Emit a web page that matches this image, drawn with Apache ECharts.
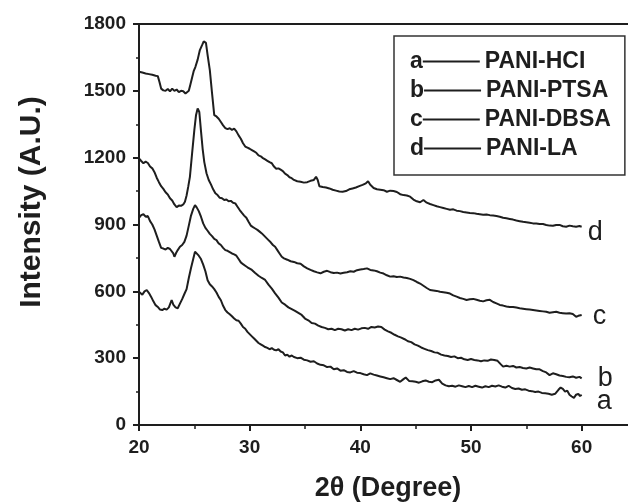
<!DOCTYPE html>
<html>
<head>
<meta charset="utf-8">
<script src="https://cdn.jsdelivr.net/npm/echarts@6/dist/echarts.min.js"></script>
<style>html,body{margin:0;padding:0;background:#fff;}#c{width:628px;height:502px;}</style>
</head>
<body>
<div id="c"></div>
<script>
const seriesNames = ['PANI-HCI', 'PANI-PTSA', 'PANI-DBSA', 'PANI-LA'];
const seriesLetters = ['a', 'b', 'c', 'd'];
const xTicks = [20, 30, 40, 50, 60];
const yTicks = [0, 300, 600, 900, 1200, 1500, 1800];

const hclX = [20.0,20.3,20.5,20.7,20.9,21.1,21.3,21.5,21.7,21.9,22.1,22.3,22.5,22.7,22.85,22.95,23.1,23.3,23.5,23.7,23.9,24.1,24.3,24.5,24.7,24.9,25.06,25.2,25.4,25.6,25.8,26.0,26.2,26.4,26.6,26.8,27.0,27.2,27.4,27.6,27.8,28.0,28.2,28.4,28.6,28.8,29.0,29.2,29.4,29.6,29.8,30.0,30.2,30.4,30.6,30.8,31.0,31.2,31.4,31.6,31.8,32.0,32.2,32.4,32.6,32.8,33.0,33.2,33.4,33.6,33.8,34.0,34.3,34.6,34.9,35.2,35.5,35.8,36.1,36.4,36.7,37.0,37.3,37.6,37.9,38.2,38.5,38.8,39.1,39.4,39.7,40.0,40.3,40.6,40.9,41.2,41.5,41.8,42.1,42.4,42.7,43.0,43.3,43.6,43.9,44.1,44.4,44.7,45.0,45.3,45.6,45.9,46.2,46.5,46.8,47.1,47.4,47.7,48.0,48.3,48.6,48.9,49.2,49.5,49.8,50.1,50.4,50.7,51.0,51.3,51.6,51.9,52.2,52.5,52.8,53.1,53.4,53.7,54.0,54.3,54.6,54.9,55.2,55.5,55.8,56.1,56.4,56.7,57.0,57.3,57.6,57.9,58.1,58.3,58.5,58.7,58.9,59.1,59.3,59.5,59.7,59.85,60.0];
const hclY = [598,585,600,606,592,575,555,538,530,518,516,522,518,528,531,561,540,528,524,545,565,588,610,660,705,745,778,770,760,745,720,690,650,632,622,610,595,575,560,535,516,505,497,488,478,470,468,455,440,432,418,408,398,388,378,368,362,356,350,346,340,345,338,335,340,330,326,312,315,307,312,305,300,302,293,290,284,286,276,270,268,260,262,250,254,244,246,238,236,242,235,233,228,224,232,226,222,218,214,210,206,210,202,194,206,213,198,196,194,190,196,200,194,192,200,203,186,178,174,176,172,178,174,170,175,170,176,172,168,174,170,176,173,178,172,168,176,166,162,164,158,160,154,152,148,150,144,142,140,136,140,158,168,162,150,154,136,128,122,136,140,130,135];

const ptsaX = [20.0,20.2,20.4,20.6,20.8,21.0,21.2,21.4,21.6,21.8,22.0,22.2,22.4,22.6,22.8,22.95,23.1,23.2,23.35,23.5,23.7,23.9,24.1,24.3,24.5,24.7,24.9,25.06,25.2,25.4,25.6,25.8,26.0,26.2,26.4,26.6,26.8,27.0,27.2,27.4,27.6,27.8,28.0,28.2,28.4,28.6,28.8,29.0,29.2,29.4,29.6,29.8,30.0,30.2,30.5,30.8,31.1,31.4,31.7,32.0,32.3,32.6,32.9,33.2,33.5,33.8,34.1,34.4,34.7,35.0,35.3,35.6,35.9,36.2,36.5,36.8,37.1,37.4,37.7,38.0,38.3,38.6,38.9,39.2,39.5,39.8,40.1,40.4,40.7,41.0,41.3,41.6,41.9,42.2,42.5,42.8,43.1,43.4,43.7,44.0,44.3,44.6,44.9,45.2,45.5,45.8,46.1,46.4,46.7,47.0,47.3,47.6,47.9,48.2,48.5,48.8,49.1,49.4,49.7,50.0,50.3,50.6,50.9,51.2,51.5,51.8,52.1,52.4,52.7,52.9,53.2,53.5,53.8,54.1,54.4,54.7,55.0,55.3,55.6,55.9,56.2,56.5,56.8,57.1,57.4,57.7,58.0,58.3,58.6,58.9,59.2,59.5,59.8,60.0];
const ptsaY = [930,942,946,935,938,915,900,878,850,822,795,792,788,795,790,795,770,755,772,785,800,808,822,850,895,940,970,987,978,960,935,905,885,872,858,848,835,830,815,808,795,785,782,776,770,766,760,745,730,722,715,708,702,696,682,670,660,651,630,612,591,572,550,540,528,520,512,503,494,478,470,458,455,446,440,436,430,432,426,432,430,424,430,426,432,428,434,436,432,440,438,442,440,428,420,414,405,398,392,385,376,372,362,356,348,342,336,332,326,324,316,312,310,305,308,300,302,295,292,296,292,290,286,290,288,294,292,288,272,262,266,262,265,258,260,256,254,258,254,250,250,242,236,224,232,228,222,220,216,214,218,212,216,209];

const dbsaX = [20.0,20.2,20.4,20.6,20.8,21.0,21.2,21.4,21.6,21.8,22.0,22.2,22.4,22.6,22.8,23.0,23.2,23.4,23.6,23.8,24.0,24.15,24.3,24.45,24.6,24.8,25.0,25.15,25.3,25.45,25.6,25.75,25.9,26.1,26.3,26.5,26.7,26.9,27.1,27.3,27.5,27.7,27.9,28.1,28.3,28.5,28.7,28.9,29.1,29.3,29.5,29.7,29.9,30.1,30.3,30.5,30.7,30.9,31.1,31.3,31.5,31.7,31.9,32.1,32.3,32.5,32.7,32.9,33.1,33.4,33.7,34.0,34.3,34.6,34.9,35.2,35.5,35.8,36.1,36.4,36.7,37.0,37.3,37.6,37.9,38.2,38.5,38.8,39.1,39.4,39.7,40.0,40.3,40.6,40.9,41.2,41.5,41.8,42.1,42.4,42.7,43.0,43.3,43.6,43.9,44.2,44.5,44.8,45.1,45.4,45.7,46.0,46.3,46.6,46.9,47.2,47.5,47.8,48.1,48.4,48.7,49.0,49.3,49.6,49.9,50.2,50.5,50.8,51.1,51.4,51.7,52.0,52.3,52.6,52.9,53.2,53.5,53.8,54.1,54.4,54.7,55.0,55.3,55.6,55.9,56.2,56.5,56.8,57.1,57.4,57.7,58.0,58.3,58.6,58.9,59.2,59.5,59.7,60.0];
const dbsaY = [1197,1185,1175,1182,1176,1160,1152,1135,1110,1090,1072,1060,1045,1035,1018,1008,990,978,985,984,990,1002,1030,1070,1114,1220,1324,1390,1421,1405,1320,1240,1180,1130,1100,1080,1058,1040,1032,1020,1018,1010,1012,1004,1006,998,995,980,965,952,940,930,912,895,888,882,876,868,860,850,840,830,820,808,800,785,770,755,748,742,735,732,726,724,712,703,696,690,685,681,688,692,686,682,684,680,683,686,690,688,695,698,700,703,696,694,690,684,680,672,666,668,664,666,662,660,656,650,642,635,625,615,606,604,602,598,596,594,590,582,576,570,566,561,564,566,562,558,555,560,562,552,546,539,536,532,530,530,527,524,522,520,518,516,514,512,510,508,504,506,508,504,502,500,502,498,486,490,494];

const laX = [20.0,20.3,20.6,20.9,21.2,21.5,21.7,21.85,22.0,22.2,22.4,22.6,22.8,23.0,23.2,23.4,23.6,23.8,24.0,24.2,24.35,24.5,24.65,24.8,24.95,25.1,25.3,25.5,25.7,25.85,26.05,26.2,26.4,26.6,26.8,27.0,27.2,27.4,27.6,27.8,28.0,28.2,28.4,28.6,28.8,29.0,29.2,29.4,29.6,29.8,30.0,30.2,30.4,30.6,30.8,31.0,31.2,31.4,31.6,31.8,32.0,32.2,32.4,32.6,32.8,33.0,33.2,33.4,33.6,33.8,34.0,34.3,34.6,34.9,35.2,35.5,35.8,36.0,36.15,36.3,36.6,36.9,37.2,37.5,37.8,38.1,38.4,38.7,39.0,39.3,39.6,39.9,40.2,40.5,40.7,40.9,41.2,41.5,41.8,42.1,42.4,42.7,43.0,43.3,43.6,43.9,44.2,44.5,44.8,45.1,45.4,45.7,46.0,46.3,46.6,46.9,47.2,47.5,47.8,48.1,48.4,48.7,49.0,49.3,49.6,49.9,50.2,50.5,50.8,51.1,51.4,51.7,52.0,52.3,52.6,52.9,53.2,53.5,53.8,54.1,54.4,54.7,55.0,55.3,55.6,55.9,56.2,56.5,56.8,57.1,57.4,57.7,58.0,58.3,58.6,58.9,59.2,59.5,59.8,60.0];
const laY = [1586,1582,1578,1575,1572,1568,1566,1540,1510,1502,1500,1508,1498,1510,1500,1506,1494,1500,1498,1488,1486,1500,1530,1560,1590,1608,1640,1683,1705,1722,1715,1660,1593,1490,1391,1385,1375,1360,1345,1333,1328,1332,1325,1330,1318,1300,1285,1265,1250,1245,1240,1234,1228,1222,1210,1206,1198,1192,1186,1180,1175,1160,1150,1152,1146,1140,1128,1122,1112,1108,1100,1094,1092,1088,1090,1096,1100,1114,1100,1072,1068,1066,1062,1056,1052,1048,1047,1050,1058,1062,1066,1072,1078,1085,1094,1078,1064,1058,1056,1054,1047,1052,1050,1046,1036,1032,1030,1025,1012,1004,1000,1010,998,992,987,982,978,974,970,966,968,962,960,956,954,952,951,948,946,944,945,942,940,938,935,930,928,925,922,918,915,912,910,908,905,904,902,902,898,895,894,898,898,892,890,895,892,890,893,890];

const allX = [hclX, ptsaX, dbsaX, laX];
const allY = [hclY, ptsaY, dbsaY, laY];
const endOffsets = [[10, 7], [11, 0], [6, 2], [1, 6]];

const ink = '#1e1e1e';
const font = 'Liberation Sans, Arial, sans-serif';
const chart = echarts.init(document.getElementById('c'), null, {renderer: 'canvas'});

const series = seriesNames.map((name, i) => ({
  name: name,
  type: 'line',
  data: allX[i].map((x, j) => [x, allY[i][j]]),
  showSymbol: false,
  symbol: 'none',
  animation: false,
  lineStyle: {color: ink, width: 2},
  itemStyle: {color: ink},
  endLabel: {
    show: true,
    formatter: () => seriesLetters[i],
    fontSize: 27,
    fontFamily: font,
    color: ink,
    distance: 5,
    offset: endOffsets[i]
  }
}));

const option = {
  backgroundColor: '#fff',
  animation: false,
  grid: {left: 139, right: -9, top: 24, bottom: 77, outerBoundsMode: 'none', containLabel: false},
  legend: {
    orient: 'vertical',
    left: 394,
    top: 36,
    padding: [14, 14, 15, 11],
    itemGap: 6,
    icon: 'none',
    itemWidth: 0,
    itemHeight: 0,
    borderColor: '#333',
    borderWidth: 1.5,
    data: seriesNames.slice(),
    selectedMode: false,
    formatter: function (name) {
      const i = seriesNames.indexOf(name);
      return '{k|' + seriesLetters[i] + '}{ln|}{t|' + name + '}';
    },
    textStyle: {
      color: ink,
      rich: {
        k: {fontSize: 23, fontWeight: 'bold', fontFamily: font, color: ink, lineHeight: 24},
        ln: {width: 57, height: 2, backgroundColor: ink},
        t: {fontSize: 23, fontWeight: 'bold', fontFamily: font, color: ink, padding: [0, 0, 0, 5], lineHeight: 24}
      }
    }
  },
  xAxis: [{
    type: 'value',
    min: 20, max: 65, interval: 10,
    position: 'bottom',
    name: '2θ (Degree)',
    nameLocation: 'middle',
    nameGap: 50,
    nameTextStyle: {fontSize: 27, fontWeight: 'bold', fontFamily: font, color: ink},
    axisLine: {show: true, lineStyle: {color: ink, width: 2}},
    axisTick: {show: true, length: 6, lineStyle: {color: ink, width: 2}},
    minorTick: {show: true, splitNumber: 2, length: 4, lineStyle: {color: ink, width: 1.5}},
    splitLine: {show: false},
    axisLabel: {
      margin: 13,
      fontSize: 19, fontWeight: 'bold', fontFamily: font, color: ink,
      formatter: v => (xTicks.indexOf(v) >= 0 ? String(v) : '')
    }
  }, {
    type: 'value',
    min: 20, max: 65,
    position: 'top',
    axisLine: {show: true, onZero: false, lineStyle: {color: ink, width: 2}},
    axisTick: {show: false},
    axisLabel: {show: false},
    splitLine: {show: false}
  }],
  yAxis: {
    type: 'value',
    min: 0, max: 1800, interval: 300,
    name: 'Intensity (A.U.)',
    nameLocation: 'middle',
    nameGap: 92,
    nameTextStyle: {fontSize: 30, fontWeight: 'bold', fontFamily: font, color: ink, padding: [0, 0, 0, 45]},
    axisLine: {show: true, lineStyle: {color: ink, width: 2}},
    axisTick: {show: true, length: 6, lineStyle: {color: ink, width: 2}},
    minorTick: {show: true, splitNumber: 2, length: 3, lineStyle: {color: ink, width: 1.5}},
    splitLine: {show: false},
    axisLabel: {
      margin: 13,
      fontSize: 19, fontWeight: 'bold', fontFamily: font, color: ink,
      formatter: v => (yTicks.indexOf(v) >= 0 ? String(v) : '')
    }
  },
  series: series
};
chart.setOption(option);
</script>
</body>
</html>
